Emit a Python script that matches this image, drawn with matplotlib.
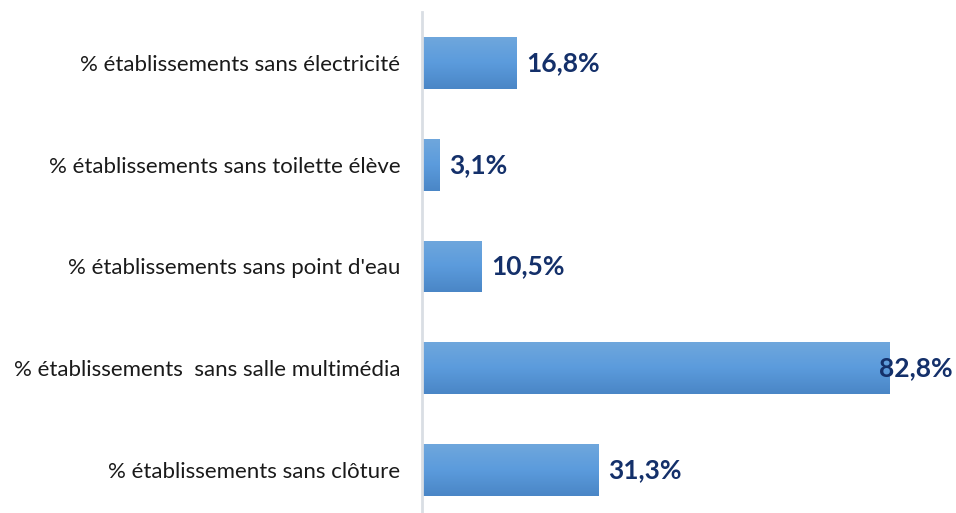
import matplotlib
matplotlib.use("Agg")
import matplotlib.pyplot as plt
import numpy as np
from matplotlib.colors import LinearSegmentedColormap

categories = [
    "% établissements sans électricité",
    "% établissements sans toilette élève",
    "% établissements sans point d'eau",
    "% établissements  sans salle multimédia",
    "% établissements sans clôture",
]
values = [16.8, 3.1, 10.5, 82.8, 31.3]
value_labels = ["16,8%", "3,1%", "10,5%", "82,8%", "31,3%"]

W, H, DPI = 956, 513, 100
fig = plt.figure(figsize=(W / DPI, H / DPI), dpi=DPI)
fig.patch.set_facecolor("white")

ax_left, ax_right = 422, 953
ax_top, ax_bot = 12, 521
ax = fig.add_axes([ax_left / W, 1 - ax_bot / H, (ax_right - ax_left) / W, (ax_bot - ax_top) / H])

xmax = (ax_right - ax_left) / 5.65
n = len(categories)
ypos = np.arange(n)
ax.set_xlim(0, xmax)
ax.set_ylim(n - 0.5, -0.5)

grad = LinearSegmentedColormap.from_list("bar", ["#6FA7DD", "#5B9BDC", "#4A86C6"])
gimg = np.linspace(0, 1, 256).reshape(-1, 1)

bars = ax.barh(ypos, values, height=0.51, color="none", edgecolor="none")
for b in bars:
    x0, y0 = b.get_x(), b.get_y()
    w, h = b.get_width(), b.get_height()
    im = ax.imshow(gimg, cmap=grad, aspect="auto", extent=(x0, x0 + w, y0 + h, y0),
                   origin="upper", zorder=2)
    im.set_clip_path(b)

lab_font = ["Lato", "DejaVu Sans"]
for y, v, lab in zip(ypos, values, value_labels):
    if v + 14 > xmax:
        ax.text(xmax, y, lab, ha="right", va="center", fontsize=19, fontweight="bold",
                color="#14306A", family=lab_font, zorder=3)
    else:
        ax.annotate(lab, (v, y), xytext=(7, 0), textcoords="offset points",
                    ha="left", va="center", fontsize=19, fontweight="bold",
                    color="#14306A", family=lab_font, zorder=3)

ax.set_yticks(ypos)
ax.set_yticklabels(categories, fontsize=16, family=lab_font, color="#1a1a1a")
ax.tick_params(axis="y", length=0, pad=15.5)
ax.set_xticks([])
for s in ["top", "right", "bottom"]:
    ax.spines[s].set_visible(False)
ax.spines["left"].set_color("#D9DEE4")
ax.spines["left"].set_linewidth(2)
ax.set_facecolor("none")

fig.savefig("out.png", dpi=DPI, facecolor="white")
